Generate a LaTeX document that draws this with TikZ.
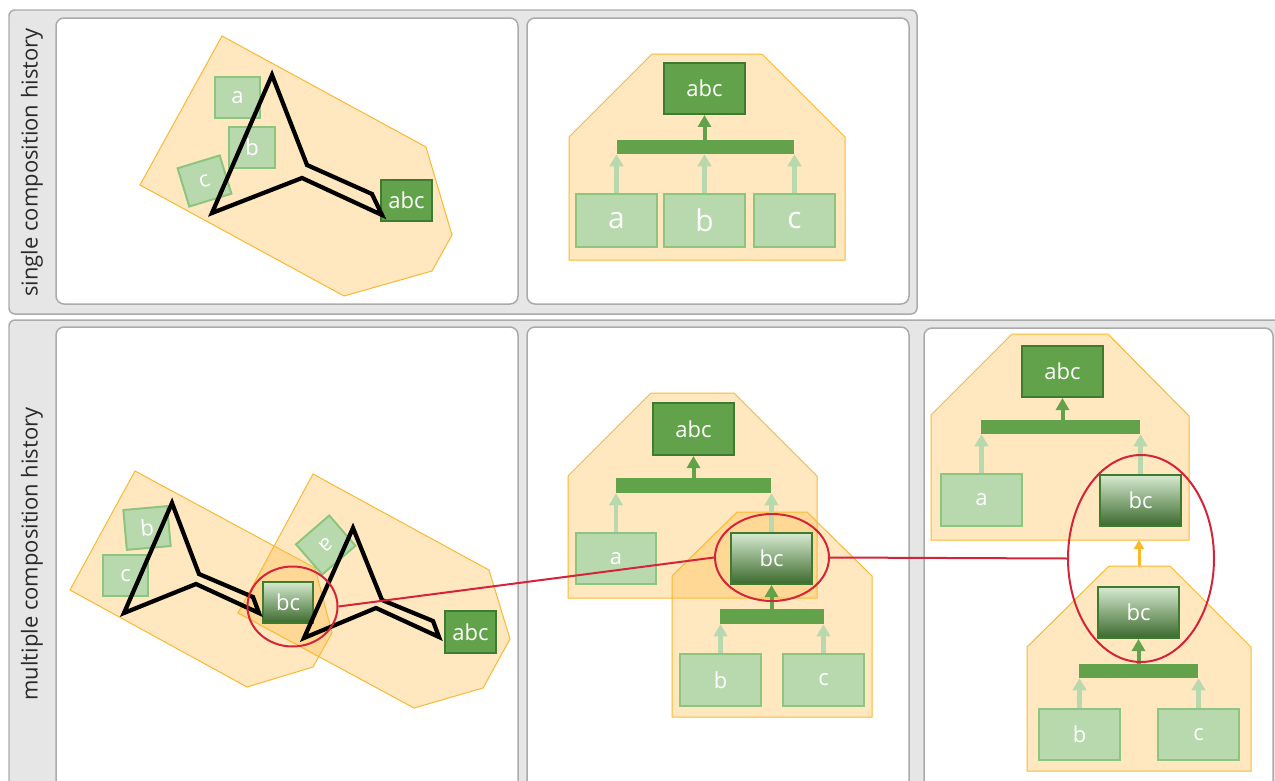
\documentclass[tikz,border=0pt]{standalone}
\usepackage{fontspec}
\setmainfont{Open Sans}
\usetikzlibrary{arrows.meta,shapes.geometric}
\definecolor{panelgray}{HTML}{E6E6E6}
\definecolor{panelline}{HTML}{ABABAB}
\definecolor{hullc}{HTML}{FFBD4A}
\definecolor{hulld}{HTML}{F9B933}
\definecolor{lgfill}{HTML}{B8D9AE}
\definecolor{lgdraw}{HTML}{8DC57E}
\definecolor{dgfill}{HTML}{62A24A}
\definecolor{dgdraw}{HTML}{3E7A2F}
\definecolor{bctop}{HTML}{D6EAD0}
\definecolor{bcbot}{HTML}{3B692C}
\definecolor{redc}{HTML}{D5243A}
\definecolor{orarrow}{HTML}{FBB829}
\definecolor{labeltext}{HTML}{2A2A2A}
\newcommand\myfsm{\fontsize{12.5}{15}\selectfont}
\newcommand\myfbig{\fontsize{17}{20}\selectfont}
\begin{document}
\begin{tikzpicture}[x=0.02cm,y=-0.02cm,
  graypanel/.style={fill=panelgray,draw=panelline,line width=0.03cm,rounded corners=0.12cm},
  whitepanel/.style={fill=white,draw=panelline,line width=0.03cm,rounded corners=0.16cm},
  sidelabel/.style={rotate=90,text=labeltext,font=\myfsm,inner sep=0},
  hull/.style={fill=hullc,fill opacity=0.35,draw=hulld,line width=0.02cm},
  wh/.style 2 args={minimum width=#1*0.02cm,minimum height=#2*0.02cm},
  lgbox/.style={rectangle,fill=lgfill,draw=lgdraw,line width=0.04cm,text=white,inner sep=0,font=\myfsm},
  lgbig/.style={lgbox,font=\myfbig},
  dgbox/.style={rectangle,fill=dgfill,draw=dgdraw,line width=0.04cm,text=white,inner sep=0,font=\myfsm},
  bcbox/.style={rectangle,top color=bctop,bottom color=bcbot,draw=dgdraw,line width=0.04cm,text=white,inner sep=0,font=\myfsm},
  barbox/.style={rectangle,fill=dgfill,draw=none,inner sep=0},
  larrow/.style={draw=lgfill,line width=0.095cm,-{Triangle[width=0.27cm,length=0.24cm]}},
  darrow/.style={draw=dgfill,line width=0.08cm,-{Triangle[width=0.26cm,length=0.24cm]}},
  oarrow/.style={draw=orarrow,line width=0.06cm,-{Triangle[width=0.2cm,length=0.18cm]}},
  blackpoly/.style={draw=black,line width=0.085cm,line join=miter},
  redell/.style={ellipse,draw=redc,line width=0.04cm,inner sep=0},
  redline/.style={draw=redc,line width=0.04cm}]
\clip (0,0) rectangle (1275,781);
\fill[white] (0,0) rectangle (1275,781);
% gray panels
\draw[graypanel] (9,10) rectangle (917,314);
\draw[graypanel] (9,320) rectangle (1300,800);
\node[sidelabel] (lab1) at (32,162.5) {single composition history};
\node[sidelabel] (lab2) at (32,554) {multiple composition history};
% white panels
\draw[whitepanel] (56,18) rectangle (518,304);
\draw[whitepanel] (527,18) rectangle (909,304);
\draw[whitepanel] (56,327) rectangle (518,800);
\draw[whitepanel] (527,327) rectangle (909,800);
\draw[whitepanel] (924,328) rectangle (1273,800);

% ---------- panel 1 ----------
\draw[hull] (222,36) -- (426,147) -- (452,235) -- (432,271) -- (344,296) -- (140,185) -- cycle;
\node[lgbox,wh={45}{41}] (p1a) at (237.5,97.5) {a};
\node[lgbox,wh={46}{41}] (p1b) at (252,147.5) {b};
\node[lgbox,wh={44}{40},rotate=17] (p1c) at (204.5,181) {c};
\node[dgbox,wh={51}{41}] (p1abc) at (406.5,200.5) {abc};
\draw[blackpoly] (272,75) -- (307,165) -- (372,194) -- (382,215) -- (302,178) -- (212,213) -- cycle;

% ---------- panel 2 ----------
\draw[hull] (652,54) -- (762,54) -- (845,137) -- (845,260) -- (569,260) -- (569,137) -- cycle;
\node[dgbox,wh={81}{51}] (p2abc) at (704.5,88.5) {abc};
\node[barbox,wh={177}{14}] (p2bar) at (705.5,147) {};
\node[lgbig,wh={81}{53}] (p2a) at (616.5,220.5) {a};
\node[lgbig,wh={81}{53}] (p2b) at (704.5,220.5) {b};
\node[lgbig,wh={81}{53}] (p2c) at (794.5,220.5) {c};
\draw[darrow] (p2abc.south |- p2bar.north) -- (p2abc.south);
\draw[larrow] (p2a.north) -- (p2a.north |- p2bar.south);
\draw[larrow] (p2b.north) -- (p2b.north |- p2bar.south);
\draw[larrow] (p2c.north) -- (p2c.north |- p2bar.south);

% ---------- panel 3 ----------
\draw[hull] (135,471) -- (315,568) -- (332,633) -- (313,667) -- (247,687) -- (70,590) -- cycle;
\draw[hull] (313,474) -- (489,570) -- (510,639) -- (483,688) -- (414,708) -- (238,613) -- cycle;
\node[lgbox,wh={44}{40},rotate=5] (p3b) at (147,528) {b};
\node[lgbox,wh={45}{41}] (p3c) at (125.5,575.5) {c};
\node[lgbox,wh={44}{40},rotate=-139] (p3a) at (325.75,545) {a};
\node[dgbox,wh={51}{42}] (p3abc) at (470.5,632) {abc};
\node[bcbox,wh={50}{41}] (p3bc) at (288,602.5) {bc};
\draw[blackpoly] (172,503) -- (199,574) -- (253,597) -- (259,613) -- (196,584) -- (124,613) -- cycle;
\draw[blackpoly] (353,528) -- (382,600) -- (433,621) -- (439,637) -- (376,608) -- (304,638) -- cycle;
\node[redell,minimum width=90*0.02cm,minimum height=80*0.02cm] (e1) at (292.5,606.5) {};

% ---------- panel 4 ----------
\draw[hull] (651,393) -- (734,393) -- (817,476) -- (817,598) -- (568,598) -- (568,476) -- cycle;
\draw[hull] (737,512) -- (807,512) -- (872,576) -- (872,717) -- (672,717) -- (672,576) -- cycle;
\node[dgbox,wh={81}{52}] (p4abc) at (693.5,429) {abc};
\node[barbox,wh={155}{15}] (p4bar) at (693.5,485.5) {};
\node[lgbox,wh={80}{51}] (p4a) at (616,558.5) {a};
\node[bcbox,wh={81}{51}] (p4bc) at (771.5,558.5) {bc};
\node[barbox,wh={104}{15}] (p4bar2) at (772,616.5) {};
\node[lgbox,wh={81}{52}] (p4b) at (720.5,680) {b};
\node[lgbox,wh={81}{52}] (p4c) at (823.5,680) {c};
\draw[darrow] (p4abc.south |- p4bar.north) -- (p4abc.south);
\draw[larrow] (p4a.north) -- (p4a.north |- p4bar.south);
\draw[larrow] (p4bc.north) -- (p4bc.north |- p4bar.south);
\draw[darrow] (p4bc.south |- p4bar2.north) -- (p4bc.south);
\draw[larrow] (p4b.north) -- (p4b.north |- p4bar2.south);
\draw[larrow] (p4c.north) -- (p4c.north |- p4bar2.south);
\node[redell,minimum width=114*0.02cm,minimum height=87*0.02cm] (e2) at (772,557.5) {};

% ---------- panel 5 ----------
\draw[hull] (1012,334) -- (1108,334) -- (1189,416) -- (1189,540) -- (931,540) -- (931,415) -- cycle;
\draw[hull] (1109,566) -- (1170,566) -- (1251,647) -- (1251,771) -- (1027,771) -- (1027,647) -- cycle;
\coordinate (h5low) at (1139,566);
\coordinate (h5up) at (1139,540);
\draw[oarrow] (h5low) -- (h5up);
\node[dgbox,wh={81}{51}] (p5abc) at (1062.5,371.5) {abc};
\node[barbox,wh={159}{14}] (p5bar) at (1060.5,427) {};
\node[lgbox,wh={81}{52}] (p5a) at (981.5,500) {a};
\node[bcbox,wh={81}{51}] (p5bc1) at (1140.5,500.5) {bc};
\node[bcbox,wh={81}{51}] (p5bc2) at (1138.5,612.5) {bc};
\node[barbox,wh={119}{14}] (p5bar2) at (1138.5,671) {};
\node[lgbox,wh={81}{51}] (p5b) at (1079.5,734.5) {b};
\node[lgbox,wh={81}{51}] (p5c) at (1198.5,734.5) {c};
\draw[darrow] (p5abc.south |- p5bar.north) -- (p5abc.south);
\draw[larrow] (p5a.north) -- (p5a.north |- p5bar.south);
\draw[larrow] (p5bc1.north) -- (p5bc1.north |- p5bar.south);
\draw[darrow] (p5bc2.south |- p5bar2.north) -- (p5bc2.south);
\draw[larrow] (p5b.north) -- (p5b.north |- p5bar2.south);
\draw[larrow] (p5c.north) -- (p5c.north |- p5bar2.south);
\node[redell,minimum width=146*0.02cm,minimum height=207*0.02cm] (e3) at (1141,558.5) {};

% red connectors
\draw[redline] (e1.east) -- (e2.west);
\draw[redline] (e2.east) -- (e3.west);
\end{tikzpicture}
\end{document}
